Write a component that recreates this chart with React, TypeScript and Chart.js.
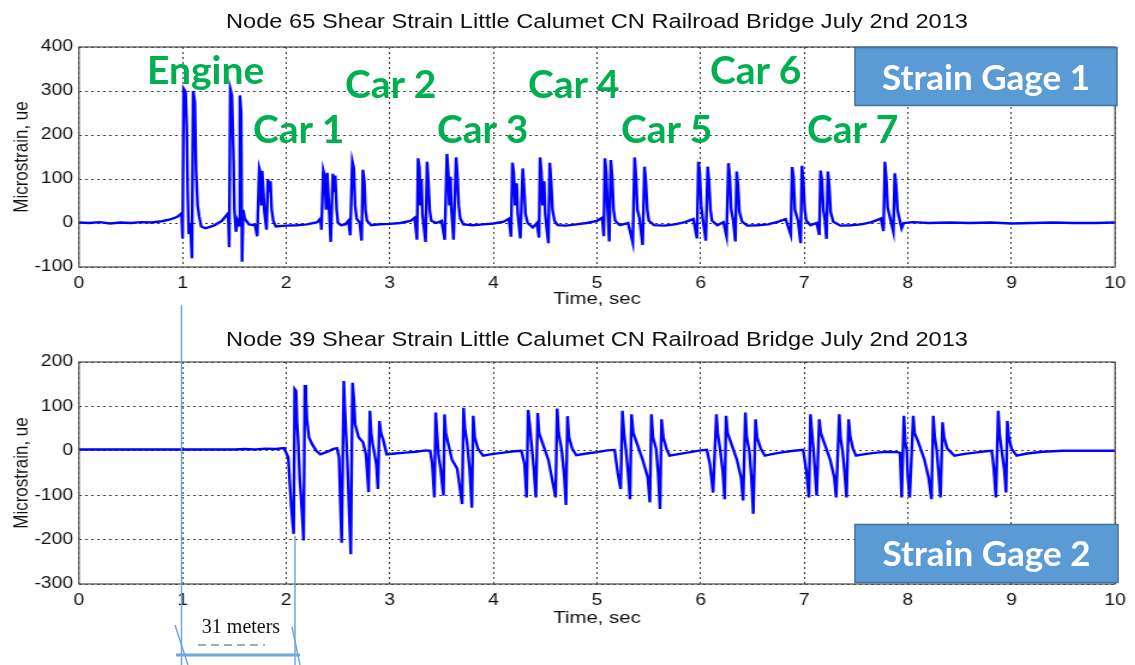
import React, { useEffect, useRef } from "react";
import { Chart, registerables } from "chart.js";

Chart.register(...registerables);

// ---------------- data ----------------
const timeTicks = [0, 1, 2, 3, 4, 5, 6, 7, 8, 9, 10];
const gage1Ticks = [-100, 0, 100, 200, 300, 400];
const gage2Ticks = [-300, -200, -100, 0, 100, 200];

const gage1Title = "Node 65 Shear Strain Little Calumet CN Railroad Bridge July 2nd 2013";
const gage2Title = "Node 39 Shear Strain Little Calumet CN Railroad Bridge July 2nd 2013";

const carLabels = ["Engine", "Car 1", "Car 2", "Car 3", "Car 4", "Car 5", "Car 6", "Car 7"];
const gageLabels = ["Strain Gage 1", "Strain Gage 2"];
const distanceLabel = "31 meters";

// [time sec, microstrain] for Node 65 (Strain Gage 1)
const gage1Points: [number, number][] = [
  [0, 1], [0.1, 0], [0.2, 2], [0.3, -1], [0.4, 1], [0.5, 0], [0.6, 2], [0.7, 1], [0.8, 4], [0.88, 8], [0.95, 14], [0.99, 22],
  [1.0, -35], [1.01, 305], [1.028, 298], [1.04, 220], [1.05, 60], [1.06, -25], [1.075, 0], [1.09, -80], [1.102, 300], [1.118, 275], [1.13, 120], [1.145, 40], [1.16, 15], [1.18, -8], [1.22, -12], [1.3, -6], [1.38, 5], [1.44, 22],
  [1.45, -55], [1.46, 305], [1.476, 290], [1.49, 160], [1.5, 30], [1.515, -20], [1.53, 5], [1.545, -5], [1.553, 290], [1.565, 250], [1.574, -88], [1.585, 30], [1.6, 10], [1.64, -3], [1.7, -5],
  [1.72, -30], [1.74, 125], [1.752, 115], [1.76, 40], [1.768, 118], [1.78, 70], [1.79, 25], [1.81, -15], [1.824, 100], [1.836, 70], [1.848, 95], [1.86, 30], [1.875, 5], [1.9, -8], [2.0, -6], [2.1, -5], [2.2, -3], [2.3, 2], [2.33, 10],
  [2.34, -15], [2.358, 119], [2.372, 105], [2.385, 30], [2.396, 114], [2.41, 50], [2.43, -43], [2.45, 112], [2.462, 70], [2.473, 108], [2.487, 30], [2.5, 0], [2.53, -5], [2.57, -3], [2.6, 5],
  [2.618, -28], [2.638, 140], [2.652, 125], [2.665, 40], [2.68, 10], [2.71, 0], [2.728, -40], [2.74, 121], [2.754, 95], [2.765, 30], [2.78, 5], [2.82, -5], [2.9, -3], [3.0, -2], [3.1, 0], [3.2, 5], [3.24, 12],
  [3.262, -38], [3.273, 147], [3.286, 125], [3.295, 40], [3.305, 100], [3.315, 20], [3.345, -43], [3.36, 139], [3.373, 90], [3.385, 30], [3.4, 5], [3.45, 0], [3.5, 5],
  [3.53, -38], [3.551, 157], [3.564, 115], [3.575, 40], [3.585, 105], [3.595, 30], [3.615, -38], [3.64, 149], [3.653, 105], [3.665, 40], [3.68, 10], [3.71, -3], [3.8, -5], [3.9, -3], [4.0, -1], [4.1, 3], [4.15, 10],
  [4.17, -31], [4.183, 137], [4.196, 115], [4.21, 40], [4.225, 90], [4.235, 20], [4.26, -35], [4.283, 124], [4.296, 80], [4.31, 20], [4.33, 0], [4.38, -10], [4.42, 0],
  [4.44, -33], [4.45, 149], [4.463, 115], [4.475, 40], [4.49, 95], [4.5, 20], [4.53, -46], [4.544, 137], [4.557, 95], [4.57, 30], [4.59, 5], [4.62, -5], [4.7, -6], [4.8, -3], [4.9, 0], [5.0, 5], [5.05, 12],
  [5.065, -30], [5.076, 147], [5.089, 115], [5.1, 40], [5.118, -42], [5.133, 143], [5.146, 105], [5.16, 30], [5.175, 5], [5.22, -5], [5.3, 0],
  [5.345, -45], [5.363, 149], [5.376, 105], [5.39, 30], [5.41, 10], [5.44, -50], [5.458, 128], [5.471, 95], [5.485, 30], [5.5, 5], [5.55, -5], [5.65, -6], [5.75, -3], [5.85, 2], [5.93, 9],
  [5.965, -35], [5.978, 139], [5.991, 115], [6.005, 40], [6.02, 10], [6.05, -40], [6.068, 128], [6.081, 95], [6.095, 30], [6.11, 5], [6.16, -5], [6.22, 2],
  [6.25, -30], [6.268, 136], [6.281, 105], [6.295, 30], [6.315, 5], [6.335, -42], [6.348, 117], [6.361, 85], [6.375, 25], [6.4, 3], [6.45, -6], [6.55, -5], [6.65, -3], [6.75, 3], [6.82, 9],
  [6.87, -27], [6.883, 127], [6.896, 105], [6.91, 30], [6.94, 5], [6.965, -46], [6.978, 130], [6.991, 95], [7.005, 30], [7.02, 5], [7.06, -5], [7.12, 0],
  [7.145, -27], [7.158, 119], [7.171, 95], [7.185, 30], [7.2, 5], [7.215, -36], [7.228, 117], [7.241, 85], [7.255, 25], [7.28, 3], [7.35, -6], [7.45, -5], [7.55, -3], [7.65, 2], [7.74, 10],
  [7.765, -18], [7.778, 139], [7.791, 105], [7.805, 35], [7.83, 10], [7.86, -20], [7.874, 113], [7.887, 85], [7.9, 30], [7.92, 8], [7.94, -12], [7.96, 0],
  [8.05, 2], [8.2, 0], [8.4, 1], [8.6, 0], [8.8, 1], [9.0, -1], [9.2, 0], [9.4, 1], [9.6, 0], [9.8, 0], [10, 1],
];

// [time sec, microstrain] for Node 39 (Strain Gage 2)
const gage2Points: [number, number][] = [
  [0, 3], [0.5, 3], [1.0, 3], [1.5, 3], [1.6, 4], [1.7, 3], [1.8, 5], [1.9, 4], [1.98, 6],
  [2.02, -15], [2.05, -130], [2.072, -187], [2.082, 139], [2.095, 135], [2.105, 60], [2.115, 26], [2.13, -60], [2.148, -120], [2.168, -202], [2.18, 148], [2.19, 120], [2.2, 71], [2.22, 30], [2.25, 15], [2.29, 0], [2.33, -8], [2.4, -2], [2.45, 4], [2.49, 6], [2.51, -15],
  [2.535, -207], [2.556, 157], [2.565, 100], [2.575, 52], [2.59, -22], [2.61, -150], [2.623, -233], [2.64, 153], [2.652, 120], [2.665, 60], [2.7, 30], [2.74, 20], [2.77, -8], [2.795, -93], [2.808, 90], [2.82, 40], [2.835, 15], [2.87, -30], [2.885, -86], [2.9, 67], [2.915, 40], [2.935, 26], [2.97, -8], [3.05, -6], [3.15, -4], [3.25, -2], [3.35, 1], [3.39, 0],
  [3.41, -30], [3.43, -105], [3.443, 86], [3.455, 40], [3.47, -10], [3.49, -40], [3.518, -101], [3.528, 82], [3.54, 40], [3.56, 20], [3.6, -20], [3.65, -40], [3.698, -120], [3.712, 97], [3.725, 50], [3.745, 20], [3.77, -40], [3.792, -128], [3.805, 79], [3.82, 30], [3.85, 5], [3.9, -11], [4.0, -7], [4.1, -4], [4.2, -1], [4.27, 0],
  [4.3, -30], [4.32, -105], [4.335, 92], [4.35, 60], [4.365, 20], [4.39, -40], [4.41, -105], [4.428, 85], [4.44, 40], [4.47, 20], [4.53, -20], [4.6, -105], [4.615, 95], [4.63, 40], [4.66, 0], [4.685, -60], [4.7, -122], [4.715, 78], [4.73, 30], [4.76, 5], [4.8, -10], [4.9, -6], [5.0, -3], [5.1, 1], [5.17, 2],
  [5.2, -50], [5.228, -86], [5.245, 90], [5.26, 40], [5.28, 0], [5.3, -50], [5.318, -109], [5.333, 82], [5.35, 40], [5.38, 20], [5.44, -20], [5.49, -60], [5.51, -116], [5.525, 82], [5.54, 30], [5.57, 5], [5.59, -50], [5.608, -131], [5.623, 71], [5.64, 30], [5.67, 5], [5.7, -11], [5.8, -7], [5.9, -3], [6.0, 1], [6.06, 2],
  [6.09, -30], [6.12, -94], [6.152, 82], [6.165, 40], [6.19, 0], [6.215, -50], [6.232, -109], [6.245, 79], [6.26, 40], [6.29, 20], [6.35, -20], [6.39, -60], [6.41, -112], [6.432, 86], [6.445, 30], [6.47, 0], [6.49, -60], [6.508, -142], [6.53, 71], [6.545, 30], [6.58, 5], [6.62, -11], [6.7, -7], [6.8, -3], [6.9, 0], [6.99, 2],
  [7.02, -45], [7.045, -105], [7.06, 82], [7.075, 40], [7.09, 0], [7.108, -60], [7.12, -101], [7.145, 71], [7.16, 40], [7.19, 20], [7.25, -20], [7.29, -60], [7.308, -105], [7.338, 82], [7.35, 30], [7.37, 0], [7.39, -50], [7.408, -105], [7.428, 71], [7.445, 30], [7.47, 5], [7.5, -11], [7.6, -7], [7.7, -4], [7.8, -2], [7.9, -3], [7.925, -5],
  [7.94, -105], [7.962, 79], [7.975, 20], [7.99, 0], [8.0, -60], [8.018, -105], [8.052, 79], [8.065, 40], [8.1, 20], [8.16, -20], [8.2, -60], [8.228, -109], [8.245, 79], [8.26, 30], [8.28, 0], [8.3, -60], [8.315, -105], [8.335, 64], [8.35, 30], [8.38, 5], [8.45, -11], [8.55, -7], [8.65, -4], [8.75, -1], [8.81, 0],
  [8.83, -40], [8.85, -105], [8.872, 90], [8.885, 40], [8.9, 10], [8.93, -40], [8.948, -94], [8.96, 67], [8.975, 30], [9.0, 5], [9.05, -11], [9.15, -6], [9.3, -2], [9.5, 0], [9.7, 0], [10, 0],
];

// ---------------- layout (unstretched chart space) ----------------
const STRETCH = 1.2; // original figure is stretched horizontally
const CW = 946;
const PLOT_LEFT = 65.8;
const PLOT_RIGHT_PAD = 16.8;
const FONT = "'Liberation Sans', Arial, sans-serif";

const boxPlugin = {
  id: "matlabBox",
  afterDraw(chart: any) {
    const { ctx, chartArea } = chart;
    const { left, top, right, bottom } = chartArea;
    ctx.save();
    ctx.strokeStyle = "#4a4a4a";
    ctx.lineWidth = 1.2;
    ctx.strokeRect(left, top, right - left, bottom - top);
    ctx.restore();
  },
};

type PanelProps = {
  points: [number, number][];
  yTicks: number[];
  height: number;
  topPad: number;
  xAxisHeight: number;
  xTitlePadBottom: number;
};

function Panel({ points, yTicks, height, topPad, xAxisHeight, xTitlePadBottom }: PanelProps) {
  const ref = useRef<HTMLCanvasElement | null>(null);
  useEffect(() => {
    if (!ref.current) return;
    const chart = new Chart(ref.current, {
      type: "line",
      data: {
        datasets: [
          {
            data: points.map(([x, y]) => ({ x, y })),
            borderColor: "#0000ff",
            borderWidth: 2.4,
            pointRadius: 0,
            tension: 0,
            fill: false,
          },
        ],
      },
      options: {
        animation: false,
        responsive: false,
        maintainAspectRatio: false,
        layout: { padding: { left: 0, right: PLOT_RIGHT_PAD, top: topPad, bottom: 0 } },
        plugins: {
          legend: { display: false },
          tooltip: { enabled: false },
          title: { display: false },
        },
        scales: {
          x: {
            type: "linear",
            min: timeTicks[0],
            max: timeTicks[timeTicks.length - 1],
            afterBuildTicks: (s: any) => {
              s.ticks = timeTicks.map((v) => ({ value: v }));
            },
            ticks: {
              color: "#111",
              font: { family: FONT, size: 16 },
              padding: 7,
              maxRotation: 0,
              autoSkip: false,
            },
            grid: { color: "#333", lineWidth: 1, drawTicks: false },
            border: { display: false, dash: [2, 3] },
            title: {
              display: true,
              text: "Time, sec",
              color: "#111",
              font: { family: FONT, size: 17 },
              padding: { top: 0, bottom: xTitlePadBottom },
            },
            afterFit: (s: any) => {
              s.height = xAxisHeight;
            },
          },
          y: {
            type: "linear",
            min: yTicks[0],
            max: yTicks[yTicks.length - 1],
            afterBuildTicks: (s: any) => {
              s.ticks = yTicks.map((v) => ({ value: v }));
            },
            ticks: {
              color: "#111",
              font: { family: FONT, size: 16 },
              padding: 5,
              autoSkip: false,
            },
            grid: { color: "#333", lineWidth: 1, drawTicks: false },
            border: { display: false, dash: [2, 3] },
            title: {
              display: true,
              text: "Microstrain, ue",
              color: "#111",
              font: { family: FONT, size: 17 },
              padding: { top: 8, bottom: 0 },
            },
            afterFit: (s: any) => {
              s.width = PLOT_LEFT;
            },
          },
        },
      } as any,
      plugins: [boxPlugin],
    });
    return () => chart.destroy();
  }, []);
  return <canvas ref={ref} width={CW} height={height} style={{ display: "block" }} />;
}

const greenStyle = {
  fontFamily: "Lato, 'Open Sans', sans-serif",
  fontWeight: 700,
  fontSize: 39,
  fill: "#00B050",
};

const gageTextStyle = { fontFamily: "Lato, 'Open Sans', sans-serif", fontWeight: 700, fontSize: 35, fill: "#fff" };

// label anchor positions (left, baseline) in page pixels
const carLabelX = [147, 253, 345, 437, 528, 621, 710, 807];
const carLabelY = [84, 143, 98, 143, 98, 143, 84, 143];

const titleStyle = (top: number) => ({
  position: "absolute" as const,
  left: PLOT_LEFT,
  width: CW - PLOT_LEFT - PLOT_RIGHT_PAD,
  top,
  height: 24,
  lineHeight: "24px",
  textAlign: "center" as const,
  fontFamily: FONT,
  fontSize: 19.7,
  color: "#111",
  whiteSpace: "nowrap" as const,
});

export default function App() {
  return (
    <div style={{ position: "absolute", left: 0, top: 0, width: 1135, height: 665, overflow: "hidden", background: "#fff" }}>
      <div
        style={{
          position: "absolute",
          left: 0,
          top: 0,
          width: CW,
          height: 665,
          transform: `scaleX(${STRETCH})`,
          transformOrigin: "0 0",
        }}
      >
        <div style={{ position: "absolute", left: 0, top: 0 }}>
          <Panel points={gage1Points} yTicks={gage1Ticks} height={312} topPad={47} xAxisHeight={45} xTitlePadBottom={2} />
        </div>
        <div style={{ position: "absolute", left: 0, top: 312 }}>
          <Panel points={gage2Points} yTicks={gage2Ticks} height={330} topPad={50} xAxisHeight={58} xTitlePadBottom={13.8} />
        </div>
        <div style={titleStyle(9)}>{gage1Title}</div>
        <div style={titleStyle(327)}>{gage2Title}</div>
      </div>
      <svg width={1135} height={665} style={{ position: "absolute", left: 0, top: 0, pointerEvents: "none" }}>
        {carLabels.map((t, i) => (
          <text key={t} x={carLabelX[i]} y={carLabelY[i]} style={greenStyle as any}>
            {t}
          </text>
        ))}
        <rect x={855} y={47.5} width={262} height={58} fill="#5B9BD5" stroke="#41719C" strokeWidth={1.5} />
        <text x={986} y={90} textAnchor="middle" style={gageTextStyle as any}>
          {gageLabels[0]}
        </text>
        <rect x={855} y={524.5} width={263} height={58} fill="#5B9BD5" stroke="#41719C" strokeWidth={1.5} />
        <text x={986.5} y={566} textAnchor="middle" style={gageTextStyle as any}>
          {gageLabels[1]}
        </text>
        <line x1={181.5} y1={305} x2={181.5} y2={665} stroke="#6FA8DC" strokeWidth={1.5} />
        <line x1={295} y1={536} x2={295} y2={665} stroke="#6FA8DC" strokeWidth={1.5} />
        <line x1={176} y1={655} x2={300} y2={655} stroke="#6FA8DC" strokeWidth={3} />
        <line x1={175} y1={625} x2={188} y2={665} stroke="#6FA8DC" strokeWidth={1.5} />
        <line x1={292} y1={627} x2={300} y2={665} stroke="#6FA8DC" strokeWidth={1.5} />
        <line x1={198} y1={645} x2={265} y2={645} stroke="#aaa" strokeWidth={2} strokeDasharray="8 5" />
        <text
          x={241}
          y={633}
          textAnchor="middle"
          style={{ fontFamily: "'Liberation Serif', 'Times New Roman', serif", fontSize: 20, fill: "#111" }}
        >
          {distanceLabel}
        </text>
      </svg>
    </div>
  );
}
